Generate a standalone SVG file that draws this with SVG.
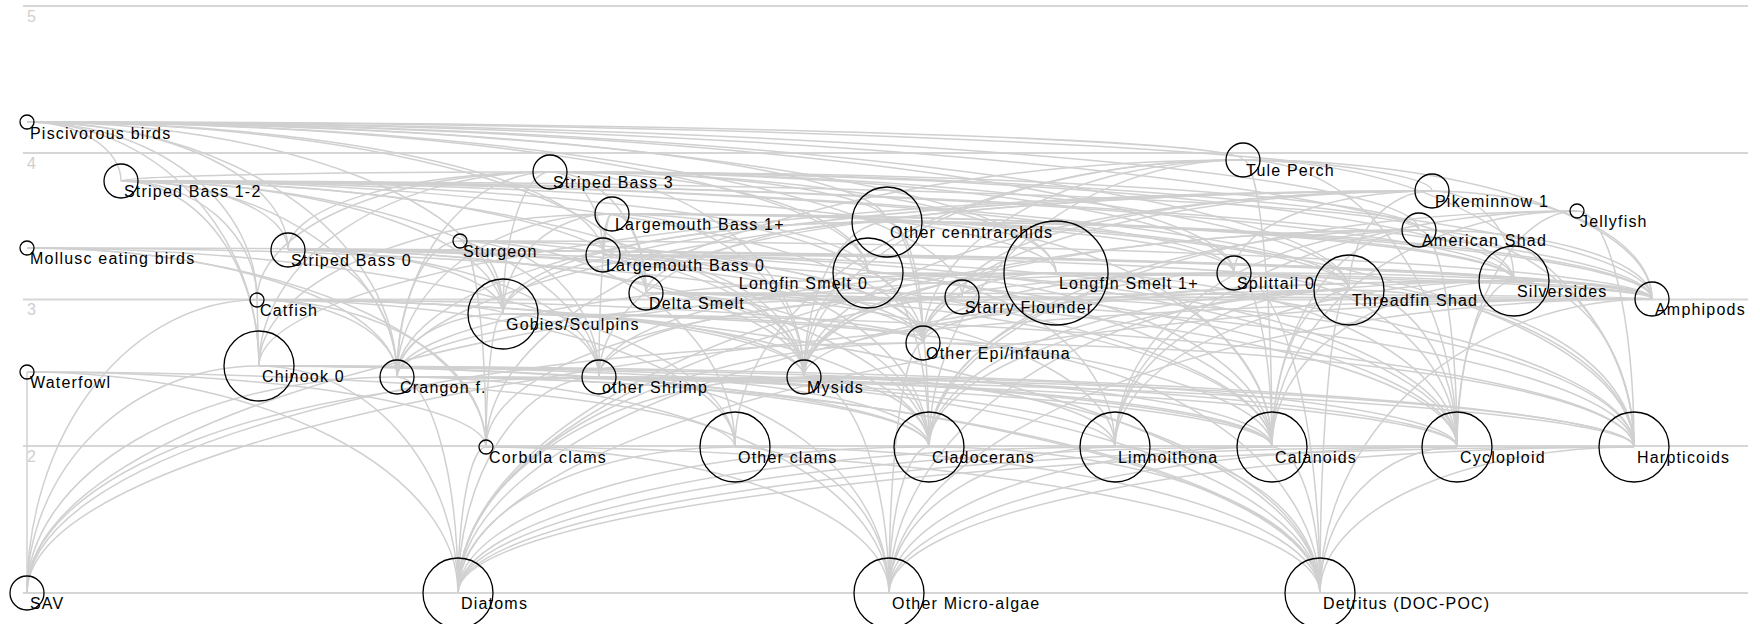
<svg xmlns="http://www.w3.org/2000/svg" width="1760" height="624" viewBox="0 0 1760 624">
<style>
.grid{stroke:#d6d6d6;stroke-width:2;fill:none}
.ax{fill:#cfcfcf;font-family:"Liberation Sans",Arial,sans-serif;font-size:16px}
#edges path{stroke:#d0d0d0;stroke-width:1.5;fill:none}
.node circle{stroke:#000;stroke-width:1.3;fill:none}
.node text{fill:#000;font-family:"Liberation Sans",Arial,sans-serif;font-size:16px;letter-spacing:1.2px}
</style>
<rect width="1760" height="624" fill="#fff"/>
<g id="grid">
<line class="grid" x1="23" y1="6" x2="1748" y2="6"/>
<line class="grid" x1="23" y1="153" x2="1748" y2="153"/>
<line class="grid" x1="23" y1="299.5" x2="1748" y2="299.5"/>
<line class="grid" x1="23" y1="446" x2="1748" y2="446"/>
<line class="grid" x1="23" y1="593" x2="1748" y2="593"/>
<text class="ax" x="27" y="22">5</text>
<text class="ax" x="27" y="169">4</text>
<text class="ax" x="27" y="315">3</text>
<text class="ax" x="27" y="462">2</text>
</g>
<g id="edges">
<path d="M27 122A94 59 0 0 1 121 181"/>
<path d="M27 122A261 128 0 0 1 288 250"/>
<path d="M27 122A230 178 0 0 1 257 300"/>
<path d="M27 122A476 192 0 0 1 503 314"/>
<path d="M27 122A619 171 0 0 1 646 293"/>
<path d="M27 122A841 151 0 0 1 868 273"/>
<path d="M27 122A1029 151 0 0 1 1056 273"/>
<path d="M27 122A1207 151 0 0 1 1234 273"/>
<path d="M27 122A1322 168 0 0 1 1349 290"/>
<path d="M27 122A1487 159 0 0 1 1514 281"/>
<path d="M27 122A232 244 0 0 1 259 366"/>
<path d="M27 122A1392 108 0 0 1 1419 230"/>
<path d="M27 122A860 100 0 0 1 887 222"/>
<path d="M27 122A576 133 0 0 1 603 255"/>
<path d="M27 122A935 175 0 0 1 962 297"/>
<path d="M27 122A1216 38 0 0 1 1243 160"/>
<path d="M27 122A1405 69 0 0 1 1432 191"/>
<path d="M27 122A370 255 0 0 1 397 377"/>
<path d="M550 172A262 78 0 0 0 288 250"/>
<path d="M550 172A429 9 0 0 0 121 181"/>
<path d="M550 172A799 118 0 0 1 1349 290"/>
<path d="M550 172A964 109 0 0 1 1514 281"/>
<path d="M550 172A506 101 0 0 1 1056 273"/>
<path d="M550 172A869 58 0 0 1 1419 230"/>
<path d="M550 172A47 142 0 0 0 503 314"/>
<path d="M550 172A291 194 0 0 0 259 366"/>
<path d="M550 172A153 205 0 0 0 397 377"/>
<path d="M550 172A96 121 0 0 1 646 293"/>
<path d="M550 172A684 101 0 0 1 1234 273"/>
<path d="M550 172A293 128 0 0 0 257 300"/>
<path d="M550 172A53 83 0 0 1 603 255"/>
<path d="M550 172A254 205 0 0 1 804 377"/>
<path d="M550 172A1102 127 0 0 1 1652 299"/>
<path d="M550 172A318 101 0 0 1 868 273"/>
<path d="M550 172A337 50 0 0 1 887 222"/>
<path d="M121 181A1228 109 0 0 1 1349 290"/>
<path d="M121 181A1393 100 0 0 1 1514 281"/>
<path d="M121 181A1298 49 0 0 1 1419 230"/>
<path d="M121 181A382 133 0 0 1 503 314"/>
<path d="M121 181A138 185 0 0 1 259 366"/>
<path d="M121 181A276 196 0 0 1 397 377"/>
<path d="M121 181A525 112 0 0 1 646 293"/>
<path d="M121 181A747 92 0 0 1 868 273"/>
<path d="M121 181A1113 92 0 0 1 1234 273"/>
<path d="M121 181A683 196 0 0 1 804 377"/>
<path d="M121 181A1531 118 0 0 1 1652 299"/>
<path d="M121 181A478 196 0 0 1 599 377"/>
<path d="M121 181A167 69 0 0 1 288 250"/>
<path d="M121 181A802 162 0 0 1 923 343"/>
<path d="M121 181A935 92 0 0 1 1056 273"/>
<path d="M121 181A136 119 0 0 1 257 300"/>
<path d="M1243 160A409 139 0 0 1 1652 299"/>
<path d="M1243 160A320 183 0 0 0 923 343"/>
<path d="M1243 160A314 287 0 0 0 929 447"/>
<path d="M1243 160A29 287 0 0 1 1272 447"/>
<path d="M1243 160A391 287 0 0 1 1634 447"/>
<path d="M1243 160A439 217 0 0 0 804 377"/>
<path d="M1243 160A757 287 0 0 0 486 447"/>
<path d="M1243 160A214 287 0 0 1 1457 447"/>
<path d="M1243 160A508 287 0 0 0 735 447"/>
<path d="M1432 191A82 90 0 0 1 1514 281"/>
<path d="M1432 191A83 99 0 0 0 1349 290"/>
<path d="M1432 191A1173 175 0 0 0 259 366"/>
<path d="M1432 191A198 82 0 0 0 1234 273"/>
<path d="M1432 191A929 123 0 0 0 503 314"/>
<path d="M1432 191A1035 186 0 0 0 397 377"/>
<path d="M1432 191A220 108 0 0 1 1652 299"/>
<path d="M1432 191A628 186 0 0 0 804 377"/>
<path d="M1432 191A509 152 0 0 0 923 343"/>
<path d="M1432 191A786 102 0 0 0 646 293"/>
<path d="M1432 191A470 106 0 0 0 962 297"/>
<path d="M1577 211A305 236 0 0 0 1272 447"/>
<path d="M1577 211A120 236 0 0 0 1457 447"/>
<path d="M1577 211A462 236 0 0 0 1115 447"/>
<path d="M1577 211A648 236 0 0 0 929 447"/>
<path d="M1577 211A57 236 0 0 1 1634 447"/>
<path d="M612 214A902 67 0 0 1 1514 281"/>
<path d="M612 214A737 76 0 0 1 1349 290"/>
<path d="M612 214A109 100 0 0 0 503 314"/>
<path d="M612 214A215 163 0 0 0 397 377"/>
<path d="M612 214A13 163 0 0 0 599 377"/>
<path d="M612 214A1040 85 0 0 1 1652 299"/>
<path d="M612 214A353 152 0 0 0 259 366"/>
<path d="M612 214A9 41 0 0 0 603 255"/>
<path d="M612 214A275 8 0 0 1 887 222"/>
<path d="M612 214A622 59 0 0 1 1234 273"/>
<path d="M612 214A192 163 0 0 1 804 377"/>
<path d="M612 214A311 129 0 0 1 923 343"/>
<path d="M612 214A34 79 0 0 1 646 293"/>
<path d="M1419 230A147 217 0 0 0 1272 447"/>
<path d="M1419 230A38 217 0 0 1 1457 447"/>
<path d="M1419 230A304 217 0 0 0 1115 447"/>
<path d="M1419 230A490 217 0 0 0 929 447"/>
<path d="M1419 230A615 147 0 0 0 804 377"/>
<path d="M1419 230A233 69 0 0 1 1652 299"/>
<path d="M1419 230A215 217 0 0 1 1634 447"/>
<path d="M1419 230A961 363 0 0 0 458 593"/>
<path d="M27 248A459 199 0 0 1 486 447"/>
<path d="M27 248A708 199 0 0 1 735 447"/>
<path d="M27 248A896 95 0 0 1 923 343"/>
<path d="M27 248A1625 51 0 0 1 1652 299"/>
<path d="M27 248A370 129 0 0 1 397 377"/>
<path d="M288 250A516 127 0 0 1 804 377"/>
<path d="M288 250A1364 49 0 0 1 1652 299"/>
<path d="M288 250A984 197 0 0 1 1272 447"/>
<path d="M288 250A1169 197 0 0 1 1457 447"/>
<path d="M288 250A641 197 0 0 1 929 447"/>
<path d="M288 250A215 64 0 0 1 503 314"/>
<path d="M288 250A109 127 0 0 1 397 377"/>
<path d="M288 250A311 127 0 0 1 599 377"/>
<path d="M288 250A1061 40 0 0 1 1349 290"/>
<path d="M288 250A635 93 0 0 1 923 343"/>
<path d="M887 222A765 77 0 0 1 1652 299"/>
<path d="M887 222A36 121 0 0 1 923 343"/>
<path d="M887 222A83 155 0 0 0 804 377"/>
<path d="M887 222A42 225 0 0 1 929 447"/>
<path d="M887 222A385 225 0 0 1 1272 447"/>
<path d="M887 222A490 155 0 0 0 397 377"/>
<path d="M887 222A288 155 0 0 0 599 377"/>
<path d="M887 222A747 225 0 0 1 1634 447"/>
<path d="M887 222A384 92 0 0 0 503 314"/>
<path d="M887 222A627 59 0 0 1 1514 281"/>
<path d="M460 241A26 206 0 0 1 486 447"/>
<path d="M460 241A275 206 0 0 1 735 447"/>
<path d="M460 241A1192 58 0 0 1 1652 299"/>
<path d="M460 241A463 102 0 0 1 923 343"/>
<path d="M460 241A63 136 0 0 0 397 377"/>
<path d="M460 241A344 136 0 0 1 804 377"/>
<path d="M460 241A139 136 0 0 1 599 377"/>
<path d="M460 241A43 73 0 0 1 503 314"/>
<path d="M603 255A1049 44 0 0 1 1652 299"/>
<path d="M603 255A201 122 0 0 1 804 377"/>
<path d="M603 255A326 192 0 0 1 929 447"/>
<path d="M603 255A669 192 0 0 1 1272 447"/>
<path d="M603 255A854 192 0 0 1 1457 447"/>
<path d="M603 255A320 88 0 0 1 923 343"/>
<path d="M603 255A1031 192 0 0 1 1634 447"/>
<path d="M868 273A404 174 0 0 1 1272 447"/>
<path d="M868 273A589 174 0 0 1 1457 447"/>
<path d="M868 273A247 174 0 0 1 1115 447"/>
<path d="M868 273A64 104 0 0 0 804 377"/>
<path d="M868 273A784 26 0 0 1 1652 299"/>
<path d="M868 273A61 174 0 0 1 929 447"/>
<path d="M1056 273A252 104 0 0 0 804 377"/>
<path d="M1056 273A596 26 0 0 1 1652 299"/>
<path d="M1056 273A216 174 0 0 1 1272 447"/>
<path d="M1056 273A659 104 0 0 0 397 377"/>
<path d="M1056 273A457 104 0 0 0 599 377"/>
<path d="M1056 273A133 70 0 0 0 923 343"/>
<path d="M1056 273A401 174 0 0 1 1457 447"/>
<path d="M1234 273A305 174 0 0 0 929 447"/>
<path d="M1234 273A38 174 0 0 1 1272 447"/>
<path d="M1234 273A418 26 0 0 1 1652 299"/>
<path d="M1234 273A400 174 0 0 1 1634 447"/>
<path d="M1234 273A311 70 0 0 0 923 343"/>
<path d="M1234 273A86 320 0 0 1 1320 593"/>
<path d="M1234 273A776 320 0 0 0 458 593"/>
<path d="M1234 273A223 174 0 0 1 1457 447"/>
<path d="M1234 273A1207 320 0 0 0 27 593"/>
<path d="M1514 281A585 166 0 0 0 929 447"/>
<path d="M1514 281A242 166 0 0 0 1272 447"/>
<path d="M1514 281A57 166 0 0 0 1457 447"/>
<path d="M1514 281A138 18 0 0 1 1652 299"/>
<path d="M1514 281A120 166 0 0 1 1634 447"/>
<path d="M1514 281A591 62 0 0 0 923 343"/>
<path d="M1514 281A710 96 0 0 0 804 377"/>
<path d="M1514 281A399 166 0 0 0 1115 447"/>
<path d="M1349 290A420 157 0 0 0 929 447"/>
<path d="M1349 290A77 157 0 0 0 1272 447"/>
<path d="M1349 290A108 157 0 0 1 1457 447"/>
<path d="M1349 290A234 157 0 0 0 1115 447"/>
<path d="M1349 290A891 303 0 0 0 458 593"/>
<path d="M1349 290A460 303 0 0 0 889 593"/>
<path d="M1349 290A29 303 0 0 0 1320 593"/>
<path d="M1349 290A285 157 0 0 1 1634 447"/>
<path d="M646 293A626 154 0 0 1 1272 447"/>
<path d="M646 293A811 154 0 0 1 1457 447"/>
<path d="M646 293A469 154 0 0 1 1115 447"/>
<path d="M646 293A158 84 0 0 1 804 377"/>
<path d="M646 293A1006 6 0 0 1 1652 299"/>
<path d="M646 293A283 154 0 0 1 929 447"/>
<path d="M646 293A988 154 0 0 1 1634 447"/>
<path d="M962 297A690 2 0 0 1 1652 299"/>
<path d="M962 297A39 46 0 0 0 923 343"/>
<path d="M962 297A476 150 0 0 0 486 447"/>
<path d="M962 297A565 80 0 0 0 397 377"/>
<path d="M962 297A158 80 0 0 0 804 377"/>
<path d="M962 297A363 80 0 0 0 599 377"/>
<path d="M962 297A672 150 0 0 1 1634 447"/>
<path d="M1652 299A1194 294 0 0 0 458 593"/>
<path d="M1652 299A763 294 0 0 0 889 593"/>
<path d="M1652 299A332 294 0 0 0 1320 593"/>
<path d="M1652 299A1625 294 0 0 0 27 593"/>
<path d="M257 300A140 77 0 0 1 397 377"/>
<path d="M257 300A666 43 0 0 1 923 343"/>
<path d="M257 300A229 147 0 0 1 486 447"/>
<path d="M257 300A478 147 0 0 1 735 447"/>
<path d="M257 300A1063 293 0 0 1 1320 593"/>
<path d="M257 300A246 14 0 0 1 503 314"/>
<path d="M257 300A230 293 0 0 0 27 593"/>
<path d="M257 300A547 77 0 0 1 804 377"/>
<path d="M257 300L259 366"/>
<path d="M503 314A301 63 0 0 1 804 377"/>
<path d="M503 314A1131 133 0 0 1 1634 447"/>
<path d="M503 314A420 29 0 0 1 923 343"/>
<path d="M503 314A426 133 0 0 1 929 447"/>
<path d="M503 314A769 133 0 0 1 1272 447"/>
<path d="M503 314A17 133 0 0 0 486 447"/>
<path d="M503 314A106 63 0 0 0 397 377"/>
<path d="M503 314A96 63 0 0 1 599 377"/>
<path d="M923 343A465 250 0 0 0 458 593"/>
<path d="M923 343A34 250 0 0 0 889 593"/>
<path d="M923 343A397 250 0 0 1 1320 593"/>
<path d="M923 343A711 104 0 0 1 1634 447"/>
<path d="M923 343A896 250 0 0 0 27 593"/>
<path d="M259 366A670 81 0 0 1 929 447"/>
<path d="M259 366A1013 81 0 0 1 1272 447"/>
<path d="M259 366A1375 81 0 0 1 1634 447"/>
<path d="M259 366A1198 81 0 0 1 1457 447"/>
<path d="M259 366A856 81 0 0 1 1115 447"/>
<path d="M259 366A1061 227 0 0 1 1320 593"/>
<path d="M259 366A199 227 0 0 1 458 593"/>
<path d="M259 366A232 227 0 0 0 27 593"/>
<path d="M27 372L27 593"/>
<path d="M27 372A459 75 0 0 1 486 447"/>
<path d="M27 372A708 75 0 0 1 735 447"/>
<path d="M27 372A431 221 0 0 1 458 593"/>
<path d="M397 377A875 70 0 0 1 1272 447"/>
<path d="M397 377A1237 70 0 0 1 1634 447"/>
<path d="M397 377A61 216 0 0 1 458 593"/>
<path d="M397 377A923 216 0 0 1 1320 593"/>
<path d="M397 377A532 70 0 0 1 929 447"/>
<path d="M397 377A1060 70 0 0 1 1457 447"/>
<path d="M397 377A370 216 0 0 0 27 593"/>
<path d="M397 377A492 216 0 0 1 889 593"/>
<path d="M599 377A673 70 0 0 1 1272 447"/>
<path d="M599 377A330 70 0 0 1 929 447"/>
<path d="M599 377A141 216 0 0 0 458 593"/>
<path d="M599 377A721 216 0 0 1 1320 593"/>
<path d="M599 377A290 216 0 0 1 889 593"/>
<path d="M599 377A1035 70 0 0 1 1634 447"/>
<path d="M599 377A572 216 0 0 0 27 593"/>
<path d="M804 377A468 70 0 0 1 1272 447"/>
<path d="M804 377A125 70 0 0 1 929 447"/>
<path d="M804 377A346 216 0 0 0 458 593"/>
<path d="M804 377A85 216 0 0 1 889 593"/>
<path d="M804 377A516 216 0 0 1 1320 593"/>
<path d="M804 377A311 70 0 0 1 1115 447"/>
<path d="M804 377A653 70 0 0 1 1457 447"/>
<path d="M486 447A28 146 0 0 0 458 593"/>
<path d="M486 447A403 146 0 0 1 889 593"/>
<path d="M486 447A834 146 0 0 1 1320 593"/>
<path d="M735 447A277 146 0 0 0 458 593"/>
<path d="M735 447A154 146 0 0 1 889 593"/>
<path d="M735 447A585 146 0 0 1 1320 593"/>
<path d="M929 447A471 146 0 0 0 458 593"/>
<path d="M929 447A40 146 0 0 0 889 593"/>
<path d="M929 447A391 146 0 0 1 1320 593"/>
<path d="M1115 447A657 146 0 0 0 458 593"/>
<path d="M1115 447A226 146 0 0 0 889 593"/>
<path d="M1115 447A205 146 0 0 1 1320 593"/>
<path d="M1272 447A814 146 0 0 0 458 593"/>
<path d="M1272 447A383 146 0 0 0 889 593"/>
<path d="M1272 447A48 146 0 0 1 1320 593"/>
<path d="M1457 447A999 146 0 0 0 458 593"/>
<path d="M1457 447A568 146 0 0 0 889 593"/>
<path d="M1457 447A137 146 0 0 0 1320 593"/>
<path d="M1634 447A1176 146 0 0 0 458 593"/>
<path d="M1634 447A745 146 0 0 0 889 593"/>
<path d="M1634 447A314 146 0 0 0 1320 593"/>
</g>
<g id="n-piscivorous-birds" class="node"><circle cx="27" cy="122" r="7"/><text x="30" y="139">Piscivorous birds</text></g>
<g id="n-striped-bass-1-2" class="node"><circle cx="121" cy="181" r="17"/><text x="124" y="197">Striped Bass 1-2</text></g>
<g id="n-striped-bass-3" class="node"><circle cx="550" cy="172" r="17"/><text x="553" y="188">Striped Bass 3</text></g>
<g id="n-mollusc-eating-birds" class="node"><circle cx="27" cy="248" r="7"/><text x="30" y="264">Mollusc eating birds</text></g>
<g id="n-striped-bass-0" class="node"><circle cx="288" cy="250" r="17"/><text x="291" y="266">Striped Bass 0</text></g>
<g id="n-sturgeon" class="node"><circle cx="460" cy="241" r="7"/><text x="463" y="257">Sturgeon</text></g>
<g id="n-largemouth-bass-1" class="node"><circle cx="612" cy="214" r="17"/><text x="615" y="230">Largemouth Bass 1+</text></g>
<g id="n-largemouth-bass-0" class="node"><circle cx="603" cy="255" r="17"/><text x="606" y="271">Largemouth Bass 0</text></g>
<g id="n-catfish" class="node"><circle cx="257" cy="300" r="7"/><text x="260" y="316">Catfish</text></g>
<g id="n-gobies-sculpins" class="node"><circle cx="503" cy="314" r="35"/><text x="506" y="330">Gobies/Sculpins</text></g>
<g id="n-delta-smelt" class="node"><circle cx="646" cy="293" r="17"/><text x="649" y="309">Delta Smelt</text></g>
<g id="n-longfin-smelt-0" class="node"><circle cx="868" cy="273" r="35"/><text x="868" y="289" text-anchor="end">Longfin Smelt 0</text></g>
<g id="n-other-cenntrarchids" class="node"><circle cx="887" cy="222" r="35"/><text x="890" y="238">Other cenntrarchids</text></g>
<g id="n-longfin-smelt-1" class="node"><circle cx="1056" cy="273" r="52"/><text x="1059" y="289">Longfin Smelt 1+</text></g>
<g id="n-starry-flounder" class="node"><circle cx="962" cy="297" r="17"/><text x="965" y="313">Starry Flounder</text></g>
<g id="n-other-epi-infauna" class="node"><circle cx="923" cy="343" r="17"/><text x="926" y="359">Other Epi/infauna</text></g>
<g id="n-tule-perch" class="node"><circle cx="1243" cy="160" r="17"/><text x="1246" y="176">Tule Perch</text></g>
<g id="n-pikeminnow-1" class="node"><circle cx="1432" cy="191" r="17"/><text x="1435" y="207">Pikeminnow 1</text></g>
<g id="n-jellyfish" class="node"><circle cx="1577" cy="211" r="7"/><text x="1580" y="227">Jellyfish</text></g>
<g id="n-american-shad" class="node"><circle cx="1419" cy="230" r="17"/><text x="1422" y="246">American Shad</text></g>
<g id="n-splittail-0" class="node"><circle cx="1234" cy="273" r="17"/><text x="1237" y="289">Splittail 0</text></g>
<g id="n-threadfin-shad" class="node"><circle cx="1349" cy="290" r="35"/><text x="1352" y="306">Threadfin Shad</text></g>
<g id="n-silversides" class="node"><circle cx="1514" cy="281" r="35"/><text x="1517" y="297">Silversides</text></g>
<g id="n-amphipods" class="node"><circle cx="1652" cy="299" r="17"/><text x="1655" y="315">Amphipods</text></g>
<g id="n-chinook-0" class="node"><circle cx="259" cy="366" r="35"/><text x="262" y="382">Chinook 0</text></g>
<g id="n-crangon-f" class="node"><circle cx="397" cy="377" r="17"/><text x="400" y="393">Crangon f.</text></g>
<g id="n-other-shrimp" class="node"><circle cx="599" cy="377" r="17"/><text x="602" y="393">other Shrimp</text></g>
<g id="n-mysids" class="node"><circle cx="804" cy="377" r="17"/><text x="807" y="393">Mysids</text></g>
<g id="n-waterfowl" class="node"><circle cx="27" cy="372" r="7"/><text x="30" y="388">Waterfowl</text></g>
<g id="n-corbula-clams" class="node"><circle cx="486" cy="447" r="7"/><text x="489" y="463">Corbula clams</text></g>
<g id="n-other-clams" class="node"><circle cx="735" cy="447" r="35"/><text x="738" y="463">Other clams</text></g>
<g id="n-cladocerans" class="node"><circle cx="929" cy="447" r="35"/><text x="932" y="463">Cladocerans</text></g>
<g id="n-limnoithona" class="node"><circle cx="1115" cy="447" r="35"/><text x="1118" y="463">Limnoithona</text></g>
<g id="n-calanoids" class="node"><circle cx="1272" cy="447" r="35"/><text x="1275" y="463">Calanoids</text></g>
<g id="n-cycloploid" class="node"><circle cx="1457" cy="447" r="35"/><text x="1460" y="463">Cycloploid</text></g>
<g id="n-harpticoids" class="node"><circle cx="1634" cy="447" r="35"/><text x="1637" y="463">Harpticoids</text></g>
<g id="n-sav" class="node"><circle cx="27" cy="593" r="17"/><text x="30" y="609">SAV</text></g>
<g id="n-diatoms" class="node"><circle cx="458" cy="593" r="35"/><text x="461" y="609">Diatoms</text></g>
<g id="n-other-micro-algae" class="node"><circle cx="889" cy="593" r="35"/><text x="892" y="609">Other Micro-algae</text></g>
<g id="n-detritus" class="node"><circle cx="1320" cy="593" r="35"/><text x="1323" y="609">Detritus (DOC-POC)</text></g>
</svg>
